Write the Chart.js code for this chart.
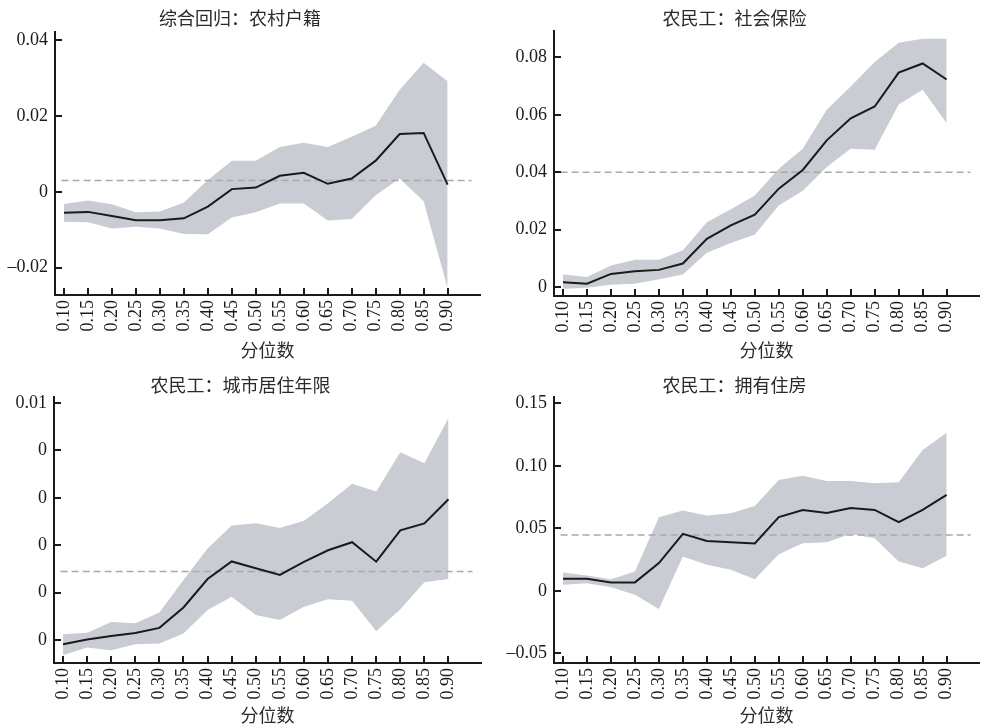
<!DOCTYPE html>
<html>
<head>
<meta charset="utf-8">
<script src="https://cdn.jsdelivr.net/npm/chart.js@4/dist/chart.umd.min.js"></script>
<style>
  html, body { margin: 0; padding: 0; background: #ffffff; }
  #wrap { position: relative; width: 981px; height: 724px; overflow: hidden; }
  canvas { position: absolute; display: block; }
</style>
</head>
<body>
<div id="wrap">
  <canvas id="pHukou" width="490" height="362" style="left:0;top:0"></canvas>
  <canvas id="pInsurance" width="491" height="362" style="left:490px;top:0"></canvas>
  <canvas id="pResidence" width="490" height="362" style="left:0;top:362px"></canvas>
  <canvas id="pHousing" width="491" height="362" style="left:490px;top:362px"></canvas>
</div>
<script>
// Quantiles on the horizontal axis
const quantiles = [0.10, 0.15, 0.20, 0.25, 0.30, 0.35, 0.40, 0.45, 0.50, 0.55, 0.60, 0.65, 0.70, 0.75, 0.80, 0.85, 0.90];
const quantileLabels = ['0.10', '0.15', '0.20', '0.25', '0.30', '0.35', '0.40', '0.45', '0.50', '0.55', '0.60', '0.65', '0.70', '0.75', '0.80', '0.85', '0.90'];

// 综合回归：农村户籍
const hukouCoef  = [-0.0055, -0.0053, -0.0064, -0.0075, -0.0075, -0.0070, -0.0039, 0.0007, 0.0011, 0.0042, 0.0050, 0.0021, 0.0035, 0.0082, 0.0152, 0.0155, 0.0019];
const hukouUpper = [-0.0032, -0.0023, -0.0033, -0.0054, -0.0052, -0.0028, 0.0031, 0.0082, 0.0082, 0.0118, 0.0129, 0.0118, 0.0145, 0.0174, 0.0269, 0.0340, 0.0291];
const hukouLower = [-0.0079, -0.0080, -0.0097, -0.0092, -0.0097, -0.0111, -0.0112, -0.0068, -0.0054, -0.0031, -0.0031, -0.0076, -0.0072, -0.0009, 0.0035, -0.0025, -0.0254];
const hukouOls = 0.0030;
const hukouTicks = [-0.02, 0, 0.02, 0.04];
const hukouTickLabels = ['\u20130.02', '0', '0.02', '0.04'];

// 农民工：社会保险
const insuranceCoef  = [0.0017, 0.0012, 0.0046, 0.0055, 0.0060, 0.0082, 0.0168, 0.0215, 0.0252, 0.0343, 0.0408, 0.0511, 0.0588, 0.0629, 0.0747, 0.0779, 0.0723];
const insuranceUpper = [0.0044, 0.0035, 0.0075, 0.0095, 0.0095, 0.0128, 0.0226, 0.0271, 0.0319, 0.0412, 0.0482, 0.0618, 0.0699, 0.0784, 0.0851, 0.0865, 0.0865];
const insuranceLower = [-0.0006, -0.0002, 0.0008, 0.0012, 0.0027, 0.0044, 0.0120, 0.0154, 0.0183, 0.0284, 0.0336, 0.0418, 0.0482, 0.0478, 0.0636, 0.0687, 0.0571];
const insuranceOls = 0.0400;
const insuranceTicks = [0, 0.02, 0.04, 0.06, 0.08];
const insuranceTickLabels = ['0', '0.02', '0.04', '0.06', '0.08'];

// 农民工：城市居住年限
const residenceCoef  = [-0.00017, 0.00003, 0.00018, 0.00030, 0.00052, 0.00138, 0.00258, 0.00332, 0.00303, 0.00275, 0.00330, 0.00379, 0.00413, 0.00331, 0.00463, 0.00492, 0.00594];
const residenceUpper = [0.00025, 0.00031, 0.00077, 0.00072, 0.00117, 0.00254, 0.00387, 0.00483, 0.00493, 0.00473, 0.00504, 0.00577, 0.00659, 0.00627, 0.00792, 0.00746, 0.00937];
const residenceLower = [-0.00063, -0.00031, -0.00042, -0.00017, -0.00014, 0.00028, 0.00127, 0.00183, 0.00106, 0.00085, 0.00141, 0.00173, 0.00166, 0.00038, 0.00130, 0.00244, 0.00258];
const residenceOls = 0.00290;
const residenceTicks = [0, 0.002, 0.004, 0.006, 0.008, 0.01];
const residenceTickLabels = ['0', '0', '0', '0', '0', '0.01'];

// 农民工：拥有住房
const housingCoef  = [0.0096, 0.0096, 0.0067, 0.0067, 0.0221, 0.0455, 0.0399, 0.0389, 0.0378, 0.0589, 0.0647, 0.0623, 0.0663, 0.0647, 0.0549, 0.0647, 0.0767];
const housingUpper = [0.0146, 0.0123, 0.0093, 0.0154, 0.0589, 0.0642, 0.0602, 0.0621, 0.0679, 0.0887, 0.0921, 0.0879, 0.0879, 0.0860, 0.0868, 0.1126, 0.1265];
const housingLower = [0.0048, 0.0061, 0.0029, -0.0032, -0.0146, 0.0274, 0.0208, 0.0168, 0.0093, 0.0293, 0.0381, 0.0389, 0.0455, 0.0421, 0.0234, 0.0181, 0.0280];
const housingOls = 0.0447;
const housingTicks = [-0.05, 0, 0.05, 0.10, 0.15];
const housingTickLabels = ['\u20130.05', '0', '0.05', '0.10', '0.15'];

const AXIS_TITLE = '分位数';
const INK = '#1a1a1a';
const BAND = '#c9ccd2';
const DASH = '#a9a9a9';
const SERIF = "'Liberation Serif', 'Times New Roman', serif";
const CJK = "'Noto Sans CJK SC', 'Noto Sans', sans-serif";

// Short tick marks drawn inward from both axis lines
const innerTicks = {
  id: 'innerTicks',
  afterDraw(chart) {
    const { ctx, chartArea, scales } = chart;
    ctx.save();
    ctx.strokeStyle = INK;
    ctx.lineWidth = 2;
    scales.x.ticks.forEach(t => {
      const px = Math.round(scales.x.getPixelForValue(t.value));
      ctx.beginPath();
      ctx.moveTo(px, chartArea.bottom);
      ctx.lineTo(px, chartArea.bottom - 7);
      ctx.stroke();
    });
    scales.y.ticks.forEach(t => {
      const py = Math.round(scales.y.getPixelForValue(t.value));
      ctx.beginPath();
      ctx.moveTo(chartArea.left, py);
      ctx.lineTo(chartArea.left + 7, py);
      ctx.stroke();
    });
    ctx.restore();
  }
};

function pairs(values) {
  return values.map((v, i) => ({ x: quantiles[i], y: v }));
}

function makePanel(id, p) {
  new Chart(document.getElementById(id), {
    type: 'line',
    data: {
      datasets: [
        { data: pairs(p.coef), borderColor: INK, borderWidth: 2, pointRadius: 0, tension: 0, fill: false, order: 0 },
        { data: [{ x: 0.095, y: p.ols }, { x: 0.95, y: p.ols }], borderColor: DASH, borderWidth: 1.5, borderDash: [7, 4], pointRadius: 0, fill: false, order: 1 },
        { data: pairs(p.upper), borderWidth: 0, borderColor: 'rgba(0,0,0,0)', backgroundColor: BAND, pointRadius: 0, tension: 0, fill: '+1', order: 2 },
        { data: pairs(p.lower), borderWidth: 0, borderColor: 'rgba(0,0,0,0)', pointRadius: 0, tension: 0, fill: false, order: 3 }
      ]
    },
    options: {
      responsive: false,
      animation: false,
      devicePixelRatio: 1,
      layout: { padding: { left: 0, right: p.padRight, top: 0, bottom: 0 } },
      plugins: {
        legend: { display: false },
        tooltip: { enabled: false },
        filler: { drawTime: 'beforeDatasetsDraw' },
        title: {
          display: true,
          text: p.title,
          color: '#2a2a2a',
          font: { family: CJK, size: 18, weight: 'normal', lineHeight: 1.2 },
          padding: { top: p.titleTop, bottom: p.titleBottom }
        }
      },
      scales: {
        x: {
          type: 'linear',
          min: 0.08125,
          max: 0.9675,
          afterBuildTicks: s => { s.ticks = quantiles.map(v => ({ value: v })); },
          afterFit: s => { s.height = p.xHeight; },
          grid: { display: false, drawTicks: false },
          border: { display: true, color: INK, width: 2 },
          ticks: {
            autoSkip: false,
            minRotation: 90,
            maxRotation: 90,
            padding: 5,
            color: INK,
            font: { family: SERIF, size: 18 },
            callback: (v, i) => quantileLabels[i]
          },
          title: {
            display: true,
            text: AXIS_TITLE,
            color: '#2a2a2a',
            font: { family: CJK, size: 18, lineHeight: 1.2 },
            padding: { top: 0, bottom: p.axisTitleBottom }
          }
        },
        y: {
          type: 'linear',
          min: p.yMin,
          max: p.yMax,
          afterBuildTicks: s => { s.ticks = p.ticks.map(v => ({ value: v })); },
          afterFit: s => { s.width = p.yWidth; },
          grid: { display: false, drawTicks: false },
          border: { display: true, color: INK, width: 2 },
          ticks: {
            autoSkip: false,
            padding: 7,
            color: INK,
            font: { family: SERIF, size: 18 },
            callback: (v, i) => p.tickLabels[i]
          }
        }
      }
    },
    plugins: [innerTicks]
  });
}

makePanel('pHukou', {
  title: '综合回归：农村户籍',
  coef: hukouCoef, upper: hukouUpper, lower: hukouLower, ols: hukouOls,
  ticks: hukouTicks, tickLabels: hukouTickLabels,
  yMin: -0.0272, yMax: 0.0421,
  yWidth: 55, xHeight: 67, padRight: 10,
  titleTop: 7.2, titleBottom: 3.2, axisTitleBottom: 1.2
});

makePanel('pInsurance', {
  title: '农民工：社会保险',
  coef: insuranceCoef, upper: insuranceUpper, lower: insuranceLower, ols: insuranceOls,
  ticks: insuranceTicks, tickLabels: insuranceTickLabels,
  yMin: -0.0031, yMax: 0.0892,
  yWidth: 64, xHeight: 66, padRight: 2,
  titleTop: 7.2, titleBottom: 2.2, axisTitleBottom: 1.2
});

makePanel('pResidence', {
  title: '农民工：城市居住年限',
  coef: residenceCoef, upper: residenceUpper, lower: residenceLower, ols: residenceOls,
  ticks: residenceTicks, tickLabels: residenceTickLabels,
  yMin: -0.00096, yMax: 0.01025,
  yWidth: 54, xHeight: 61, padRight: 9,
  titleTop: 12.2, titleBottom: 1.2, axisTitleBottom: -1.8
});

makePanel('pHousing', {
  title: '农民工：拥有住房',
  coef: housingCoef, upper: housingUpper, lower: housingLower, ols: housingOls,
  ticks: housingTicks, tickLabels: housingTickLabels,
  yMin: -0.0578, yMax: 0.1553,
  yWidth: 64, xHeight: 61, padRight: 2,
  titleTop: 12.2, titleBottom: 0.9, axisTitleBottom: -1.8
});
</script>
</body>
</html>
